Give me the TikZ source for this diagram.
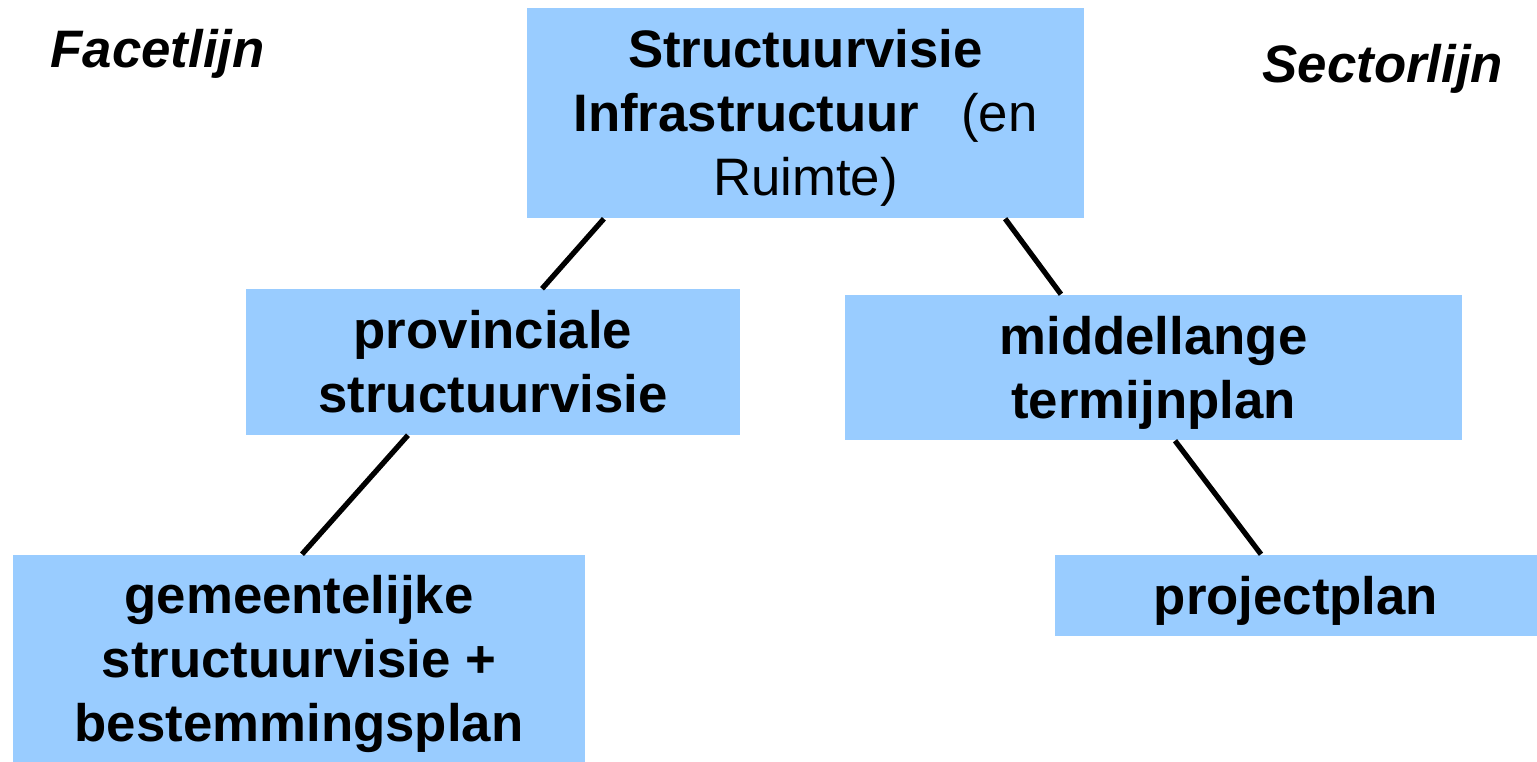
\documentclass[tikz,border=0pt]{standalone}
\usepackage{fontspec}
\setmainfont{Liberation Sans}
\definecolor{boxblue}{RGB}{153,204,255}
\newcommand{\ls}{\vrule height 14pt depth 3.2pt width 0pt}
\begin{document}
\begin{tikzpicture}[x=0.01cm,y=-0.01cm,
  box/.style={fill=boxblue, inner sep=0pt, align=center, font=\fontsize{15}{18.2}\selectfont\bfseries},
  lijn/.style={inner sep=0pt, anchor=base west, font=\fontsize{15}{18.2}\selectfont\bfseries\itshape}]
\useasboundingbox (0,0) rectangle (1537,762);
\node[box, minimum width=5.57cm, minimum height=2.10cm] (1) at (805.5,113) {\ls Structuurvisie\\Infrastructuur\hspace{0.42cm}\textnormal{(en}\\\textnormal{Ruimte)}\ls};
\node[box, minimum width=4.94cm, minimum height=1.45cm] (2) at (493,362) {\ls provinciale\\structuurvisie\ls};
\node[box, minimum width=6.17cm, minimum height=1.45cm] (3) at (1153.5,367.5) {\ls middellange\\termijnplan\ls};
\node[box, minimum width=5.72cm, minimum height=2.07cm] (4) at (299,658.5) {\ls gemeentelijke\\structuurvisie +\\bestemmingsplan\ls};
\node[box, minimum width=4.82cm, minimum height=0.81cm] (5) at (1296,595.5) {\ls projectplan\ls};
\node[lijn] (6) at (50,68) {Facetlijn};
\node[lijn] (7) at (1262,83) {Sectorlijn};
\path[draw,line width=1.5pt,-] ([xshift=-2.015cm]1.south) -- ([xshift=0.49cm]2.north);
\path[draw,line width=1.5pt,-] ([xshift=1.995cm]1.south) -- ([xshift=-0.925cm]3.north);
\path[draw,line width=1.5pt,-] ([xshift=-0.85cm]2.south) -- ([xshift=0.03cm]4.north);
\path[draw,line width=1.5pt,-] ([xshift=0.215cm]3.south) -- ([xshift=-0.35cm]5.north);
\end{tikzpicture}
\end{document}
